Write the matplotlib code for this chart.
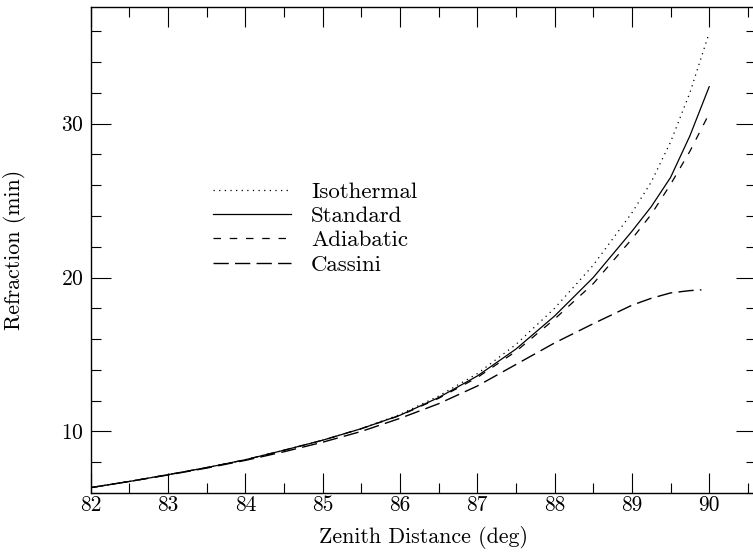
import numpy as np
import matplotlib
matplotlib.use('Agg')
import matplotlib.pyplot as plt
import matplotlib.ticker as ticker

plt.rcParams['font.family'] = ['cmr10', 'DejaVu Serif']
plt.rcParams['axes.formatter.use_mathtext'] = True

# zenith distance (deg) and refraction (min)
zd_common  = [82.0, 82.5, 83.0, 83.5, 84.0, 84.5, 85.0, 85.5, 86.0, 86.5, 87.0, 87.5, 88.0, 88.5, 89.0, 89.25, 89.5, 89.75, 90.0]
isothermal = [6.35, 6.75, 7.19, 7.65, 8.16, 8.78, 9.43, 10.18, 11.10, 12.30, 13.75, 15.65, 18.0, 20.8, 24.2, 26.2, 28.8, 32.0, 35.9]
standard   = [6.35, 6.75, 7.19, 7.65, 8.16, 8.78, 9.43, 10.18, 11.05, 12.20, 13.60, 15.35, 17.5, 20.0, 23.0, 24.6, 26.5, 29.2, 32.4]
adiabatic  = [6.35, 6.75, 7.19, 7.65, 8.16, 8.78, 9.43, 10.18, 11.03, 12.15, 13.50, 15.20, 17.3, 19.6, 22.5, 24.1, 26.05, 28.2, 30.65]

zd_cassini = [82.0, 82.5, 83.0, 83.5, 84.0, 84.5, 85.0, 85.5, 86.0, 86.5, 87.0, 87.5, 88.0, 88.5, 89.0, 89.25, 89.5, 89.75, 89.9]
cassini    = [6.35, 6.75, 7.17, 7.62, 8.12, 8.68, 9.30, 10.00, 10.85, 11.80, 12.95, 14.35, 15.75, 17.0, 18.2, 18.65, 19.0, 19.15, 19.2]

fig = plt.figure(figsize=(7.53, 5.52), dpi=100)
ax  = fig.add_axes([0.1205, 0.1069, 0.8829, 0.8810])

ax.plot(zd_common, isothermal, color='k', lw=0.9, dashes=(1.0, 3.5), label='Isothermal')
ax.plot(zd_common, standard, color='k', lw=0.9, ls='-', label='Standard')
ax.plot(zd_common, adiabatic, color='k', lw=0.9, dashes=(6, 7), label='Adiabatic')
ax.plot(zd_cassini, cassini, color='k', lw=1.0, dashes=(11, 4.5), label='Cassini')

ax.axis([82.0, 90.6, 6.0, 37.6])
ax.xaxis.set_major_locator(ticker.MultipleLocator(1.0))
ax.xaxis.set_minor_locator(ticker.MultipleLocator(0.5))
ax.yaxis.set_major_locator(ticker.FixedLocator([10, 20, 30]))
ax.yaxis.set_minor_locator(ticker.MultipleLocator(2.0))
ax.xaxis.set_major_formatter(ticker.FormatStrFormatter('%d'))
ax.tick_params('both', which='both', direction='in', top=True, right=True, width=0.8, labelsize=15.5)
ax.tick_params('both', which='major', length=14.4)
ax.tick_params('both', which='minor', length=7.2)
ax.tick_params('x', which='major', pad=2)
ax.tick_params('y', which='major', pad=5)
for sp in ax.spines.values():
    sp.set_linewidth(1.0)

ax.set_xlabel('Zenith Distance (deg)', fontsize=15.8, labelpad=8)
ax.set_ylabel('Refraction (min)', fontsize=15.8, labelpad=25)

ax.legend(loc='upper left', bbox_to_anchor=(213 / 753, 1 - 181.5 / 552), bbox_transform=fig.transFigure,
          frameon=False, fontsize=16.5, handlelength=3.39, handletextpad=0.89, labelspacing=0.19,
          borderaxespad=0, borderpad=0)

fig.savefig('out.png', dpi=100)
plt.close()
